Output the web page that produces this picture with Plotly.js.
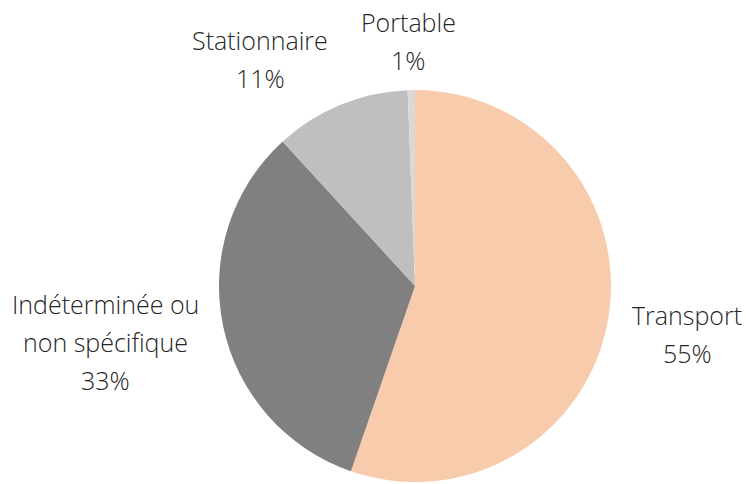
<!DOCTYPE html>
<html>
<head>
<meta charset="utf-8">
<script src="https://cdn.plot.ly/plotly-3.0.1.min.js"></script>
<style>html,body{margin:0;padding:0;background:#fff;}#chart{width:746px;height:484px;}</style>
</head>
<body>
<div id="chart"></div>
<script>
const categories = ["Transport", "Indéterminée ou non spécifique", "Stationnaire", "Portable"];
const labelLines = [["Transport"], ["Indéterminée ou", "non spécifique"], ["Stationnaire"], ["Portable"]];
const values = [55.3, 32.9, 11.2, 0.6];
const colors = ["#F8CBAD", "#808080", "#BFBFBF", "#D9D9D9"];

// label block anchors (paper px, center of block)
const labelPos = [[687, 334], [105, 342], [260, 59], [408, 41]];

const W = 746, H = 484;
const total = values.reduce((a, b) => a + b, 0);
const lineGap = 38;
const annotations = [];
categories.forEach((c, i) => {
  const lines = labelLines[i].concat([Math.round(values[i] / total * 100) + "%"]);
  const n = lines.length;
  lines.forEach((t, k) => {
    const yc = labelPos[i][1] + (k - (n - 1) / 2) * lineGap;
    annotations.push({
      text: t, showarrow: false, xref: "paper", yref: "paper",
      x: labelPos[i][0] / W, y: 1 - yc / H, xanchor: "center", yanchor: "middle",
      font: {family: "'Open Sans', Lato, sans-serif", size: 25, color: "#262626", weight: 300}
    });
  });
});

const data = [{
  type: "pie",
  labels: categories,
  values: values,
  marker: {colors: colors, line: {color: "#FFFFFF", width: 0}},
  sort: false,
  direction: "clockwise",
  rotation: 0,
  textinfo: "none",
  hoverinfo: "label+percent",
  domain: {x: [217 / W, 613 / W], y: [2 / H, 394 / H]}
}];

const layout = {
  width: W, height: H,
  margin: {l: 0, r: 0, t: 0, b: 0},
  showlegend: false,
  paper_bgcolor: "#FFFFFF",
  annotations: annotations
};

Plotly.newPlot("chart", data, layout, {displayModeBar: false, staticPlot: true});
</script>
</body>
</html>
